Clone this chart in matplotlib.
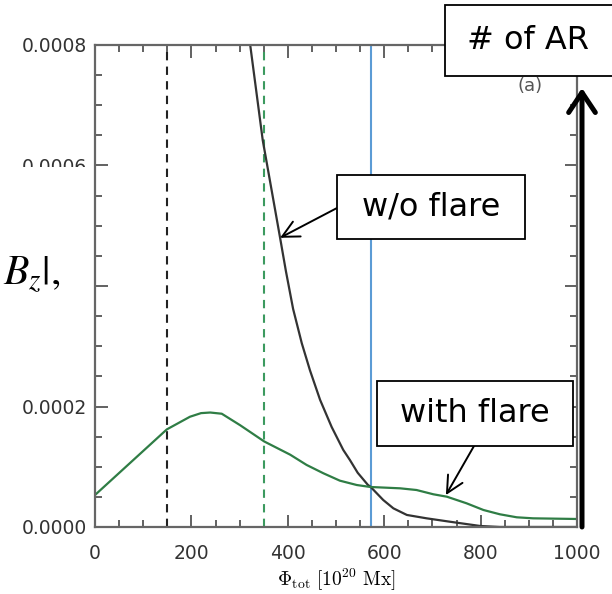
import matplotlib.pyplot as plt
from matplotlib.patches import Rectangle
from matplotlib.ticker import MultipleLocator, FuncFormatter

W, H = 612, 594

# flux [1e20 Mx] and fraction of ARs without flares
NOFLARE_X = [300, 322, 348, 384, 396, 411, 429, 446, 467, 491, 515, 529, 545, 566, 572, 598, 619, 647,
             688, 736, 799, 840, 1000]
NOFLARE_Y = [0.00095, 0.0008, 0.000642, 0.00048, 0.000425, 0.000362, 0.000305, 0.00026, 0.000211, 0.000166,
             0.000128, 0.000111, 0.00009, 0.00007, 0.0000664, 0.0000448, 0.000031, 0.00002,
             0.0000144, 0.0000088, 0.0000017, 0.0, 0.0]

# same, with flares
FLARE_X = [0, 149, 197, 220, 239, 263, 301, 351, 405, 439, 474, 508, 543, 567, 572, 633, 667, 702, 730,
           771, 806, 840, 875, 909, 1000]
FLARE_Y = [0.0000531, 0.000162, 0.000183, 0.000189, 0.00019, 0.000188, 0.000169, 0.000142, 0.00012, 0.000103,
           0.0000891, 0.0000769, 0.0000697, 0.0000669, 0.0000664, 0.0000642, 0.0000614, 0.0000543, 0.0000503,
           0.0000393, 0.0000282, 0.0000211, 0.0000161, 0.0000144, 0.0000133]

THRESH_BLACK = 150
THRESH_GREEN = 351
THRESH_BLUE = 572

Y_TICKS_SHOWN = [0.0, 0.0002, 0.0006, 0.0008]


def fx(px):
    return px / W


def fy(py):
    return 1 - py / H


def ytick_label(v, pos):
    if any(abs(v - t) < 1e-9 for t in Y_TICKS_SHOWN):
        return "%.4f" % v
    return ""


plt.rcParams["font.family"] = "DejaVu Sans"
plt.rcParams["mathtext.fontset"] = "cm"

fig = plt.figure(figsize=(6.12, 5.94), dpi=100)
ax = fig.add_axes([fx(95), fy(527), fx(577) - fx(95), fy(45) - fy(527)])

ax.axvline(THRESH_BLACK, color="#222222", ls=(0, (4, 3)), lw=1.5)
ax.axvline(THRESH_GREEN, color="#3c9a5f", ls=(0, (4, 3)), lw=1.5)
ax.axvline(THRESH_BLUE, color="#5b9bd5", lw=1.5)

ax.plot(NOFLARE_X, NOFLARE_Y, color="#333333", lw=1.6)
ax.plot(FLARE_X, FLARE_Y, color="#2f7d45", lw=1.6)

ax.set_xlim(0, 1000)
ax.set_ylim(0, 0.0008)
ax.xaxis.set_major_locator(MultipleLocator(200))
ax.xaxis.set_minor_locator(MultipleLocator(50))
ax.yaxis.set_major_locator(MultipleLocator(0.0002))
ax.yaxis.set_minor_locator(MultipleLocator(0.00005))
ax.yaxis.set_major_formatter(FuncFormatter(ytick_label))
ax.tick_params(which="both", direction="in", top=True, right=True, width=1.3, color="#555555",
               labelsize=13.5, labelcolor="#333333")
ax.tick_params(which="major", length=9)
ax.tick_params(which="minor", length=5)
ax.tick_params(axis="x", pad=12)
ax.tick_params(axis="y", pad=6)
for s in ax.spines.values():
    s.set_color("#666666")
    s.set_linewidth(1.6)

ax.set_xlabel(r"$\Phi_{\rm tot}\ [10^{20}\ {\rm Mx}]$", fontsize=14, labelpad=3)

# panel tag, partly under the box
fig.text(fx(530), fy(86), "(a)", ha="center", va="center", fontsize=13, color="#555555", zorder=1)

# white overlay over the left labels, with the cropped symbol on top
fig.patches.append(Rectangle((0, fy(300)), fx(90), fy(167) - fy(300), transform=fig.transFigure,
                             facecolor="white", edgecolor="none", zorder=5))
fig.text(fx(3), fy(274), r"$B_z|,$", ha="left", va="center", fontsize=30, zorder=6,
         math_fontfamily="stix")


def box(x0, y0, x1, y1, label, ha="center", tx=None):
    fig.patches.append(Rectangle((fx(x0), fy(y1)), fx(x1) - fx(x0), fy(y0) - fy(y1),
                                 transform=fig.transFigure, facecolor="white", edgecolor="black",
                                 lw=1.3, zorder=7))
    x = (x0 + x1) / 2 if tx is None else tx
    fig.text(fx(x), fy((y0 + y1) / 2), label, ha=ha, va="center", fontsize=23, zorder=8)


box(337, 175, 525, 239, "w/o flare")
box(377, 381, 573, 446, "with flare")
box(445, 5, 640, 76, "# of AR", ha="left", tx=467)

ax.annotate("", xy=(384, 0.00048), xycoords="data", xytext=(fx(337), fy(208)),
            textcoords="figure fraction",
            arrowprops=dict(arrowstyle="->,head_length=0.6,head_width=0.3", lw=1.4, color="black",
                            mutation_scale=20, shrinkA=0, shrinkB=0))
ax.annotate("", xy=(728, 0.000053), xycoords="data", xytext=(fx(474), fy(446)),
            textcoords="figure fraction",
            arrowprops=dict(arrowstyle="->,head_length=0.6,head_width=0.3", lw=1.4, color="black",
                            mutation_scale=20, shrinkA=0, shrinkB=0))

# thick arrow along the right edge
ax.annotate("", xy=(fx(582), fy(88)), xycoords="figure fraction", xytext=(fx(582), fy(527)),
            textcoords="figure fraction",
            arrowprops=dict(arrowstyle="->,head_length=0.72,head_width=0.48", lw=3.6, color="black",
                            mutation_scale=20, shrinkA=0, shrinkB=0))

fig.savefig("out.png", dpi=100)
